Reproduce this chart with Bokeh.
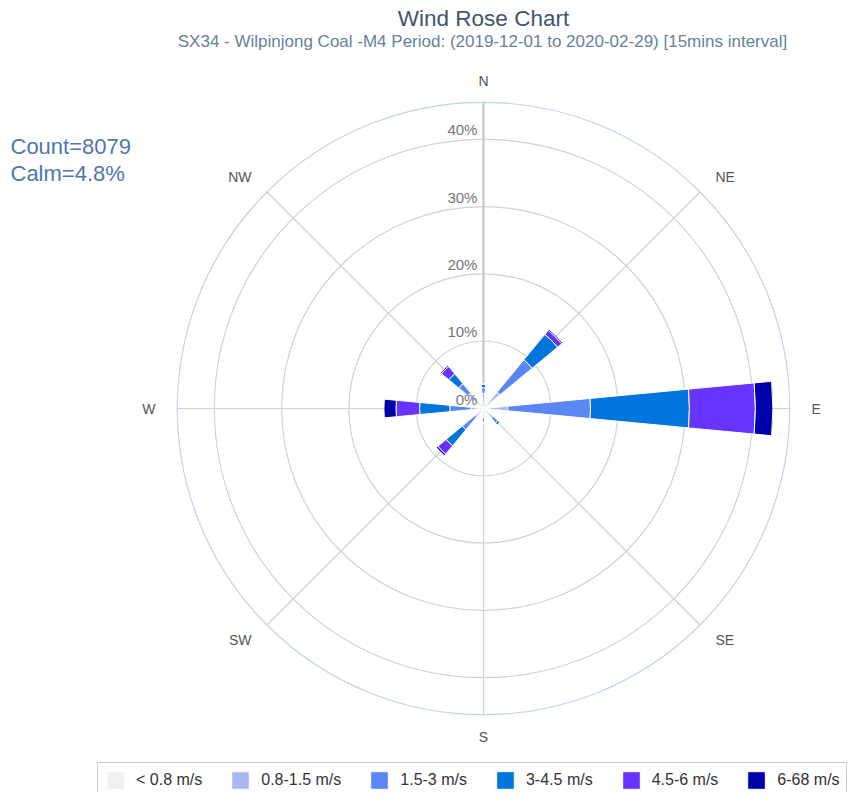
import numpy as np
from bokeh.plotting import figure
from bokeh.models import ColumnDataSource, Label, Legend, LegendItem, Range1d
from bokeh.core.properties import value
from bokeh.embed import file_html
from bokeh.resources import INLINE

# ---------------- data ----------------
directions = ["N", "NNE", "NE", "ENE", "E", "ESE", "SE", "SSE",
              "S", "SSW", "SW", "WSW", "W", "WNW", "NW", "NNW"]
speed_bins = ["< 0.8 m/s", "0.8-1.5 m/s", "1.5-3 m/s", "3-4.5 m/s", "4.5-6 m/s", "6-68 m/s"]
bin_colors = ["#f0f0f0", "#a9b8f5", "#5b86f5", "#0075dc", "#6633ff", "#0000aa"]

s_lt_08 = [0.6, 0.3, 0.4, 0.3, 0.6, 0.3, 0.5, 0.3, 0.5, 0.3, 0.5, 0.3, 0.5, 0.3, 0.5, 0.3]
s_08_15 = [1.6, 0.0, 2.8, 0.0, 3.0, 0.0, 1.3, 0.0, 0.9, 0.0, 1.1, 0.0, 1.4, 0.0, 2.5, 0.0]
s_15_3 = [0.9, 0.0, 6.2, 0.0, 12.3, 0.0, 1.0, 0.0, 0.6, 0.0, 2.5, 0.0, 3.1, 0.0, 1.8, 0.0]
s_3_45 = [0.5, 0.0, 4.9, 0.0, 14.7, 0.0, 0.4, 0.0, 0.2, 0.0, 3.1, 0.0, 4.5, 0.0, 1.9, 0.0]
s_45_6 = [0.0, 0.0, 0.8, 0.0, 9.8, 0.0, 0.0, 0.0, 0.0, 0.0, 1.6, 0.0, 3.5, 0.0, 1.4, 0.0]
s_6_68 = [0.0, 0.0, 0.2, 0.0, 2.6, 0.0, 0.0, 0.0, 0.0, 0.0, 0.3, 0.0, 1.8, 0.0, 0.2, 0.0]
series = [s_lt_08, s_08_15, s_15_3, s_3_45, s_45_6, s_6_68]

axis_labels = ["N", "NE", "E", "SE", "S", "SW", "W", "NW"]
radial_ticks = [0, 10, 20, 30, 40]
radial_max = 45.5

title_text = "Wind Rose Chart"
subtitle_text = "SX34 - Wilpinjong Coal -M4 Period: (2019-12-01 to 2020-02-29) [15mins interval]"
count_text = "Count=8079"
calm_text = "Calm=4.8%"

# ---------------- layout ----------------
W, H = 848, 792
PX = 6.73            # pixels per percent
CX, CY = 483, 408    # centre in figure pixels
x0 = -CX / PX
x1 = (W - CX) / PX
y1 = CY / PX
y0 = -(H - CY) / PX

p = figure(width=W, height=H, x_range=Range1d(x0, x1), y_range=Range1d(y0, y1),
           output_backend="svg", toolbar_location=None, min_border=0,
           x_axis_location=None, y_axis_location=None, outline_line_color=None)
p.grid.visible = False

FONT = "Liberation Sans"

# grid rings
p.circle(x=[0] * 4, y=[0] * 4, radius=radial_ticks[1:], fill_color=None,
         line_color="#d2d2d2", line_width=1.2)
# radial lines
ang = np.radians(np.arange(8) * 45.0)
p.segment(x0=np.zeros(8), y0=np.zeros(8), x1=radial_max * np.sin(ang), y1=radial_max * np.cos(ang),
          line_color="#d0d0d0", line_width=1.2)
p.segment(x0=[0], y0=[0], x1=[0], y1=[radial_max], line_color="#c8c8c8", line_width=2.2)
# outer circle
p.circle(x=[0], y=[0], radius=[radial_max], fill_color=None, line_color="#c5d3e6", line_width=1.2)

# bars
n = len(directions)
bearing = np.arange(n) * 360.0 / n
half = 10.8 / 2
start = np.radians(90 - bearing - half)
end = np.radians(90 - bearing + half)
cum = np.zeros(n)
renderers = []
for name, vals, col in zip(speed_bins, series, bin_colors):
    v = np.array(vals, dtype=float)
    src = ColumnDataSource(dict(x=np.zeros(n), y=np.zeros(n), inner=cum.copy(), outer=cum + v,
                                start=start, end=end, dir=directions))
    r = p.annular_wedge(x="x", y="y", inner_radius="inner", outer_radius="outer",
                        start_angle="start", end_angle="end", source=src,
                        fill_color=col, line_color="white", line_width=1)
    renderers.append(r)
    cum = cum + v

# direction labels (anchored at a fixed radius, aligned away from the centre)
lab_ang = np.radians(np.arange(len(axis_labels)) * 45.0)
lab_r = 328 / PX
lx = lab_r * np.sin(lab_ang)
ly = lab_r * np.cos(lab_ang)
sx = np.sin(lab_ang)
for align, mask in (("left", sx > 0.01), ("right", sx < -0.01), ("center", np.abs(sx) <= 0.01)):
    idx = np.where(mask)[0]
    p.text(x=lx[idx], y=ly[idx], text=[axis_labels[i] for i in idx],
           text_align=align, text_baseline="middle", text_font=value(FONT),
           text_font_size="14px", text_color="#555555")

# radial tick labels
p.text(x=[-0.9] * len(radial_ticks), y=radial_ticks, text=[f"{t}%" for t in radial_ticks],
       text_align="right", text_baseline="bottom", y_offset=-1, text_font=value(FONT),
       text_font_size="15px", text_color="#777777")

# titles and info text
p.add_layout(Label(x=483, y=H - 18, x_units="screen", y_units="screen", text=title_text,
                   text_align="center", text_baseline="middle", text_font=FONT,
                   text_font_size="22.5px", text_color="#44546a"))
p.add_layout(Label(x=482, y=H - 41, x_units="screen", y_units="screen", text=subtitle_text,
                   text_align="center", text_baseline="middle", text_font=FONT,
                   text_font_size="17px", text_color="#6a7f9c"))
p.add_layout(Label(x=10, y=H - 146, x_units="screen", y_units="screen", text=count_text,
                   text_align="left", text_baseline="middle", text_font=FONT,
                   text_font_size="22px", text_color="#4f77b0"))
p.add_layout(Label(x=10, y=H - 173, x_units="screen", y_units="screen", text=calm_text,
                   text_align="left", text_baseline="middle", text_font=FONT,
                   text_font_size="22px", text_color="#4f77b0"))

legend = Legend(items=[LegendItem(label=name, renderers=[r]) for name, r in zip(speed_bins, renderers)],
                orientation="horizontal", location=(97, -6), padding=6, margin=0,
                spacing=27, label_standoff=10, glyph_width=22, glyph_height=22,
                label_text_font=FONT, label_text_font_size="16px", label_text_color="#333333",
                border_line_color="#999999", border_line_width=1,
                background_fill_color="white", background_fill_alpha=1.0)
p.add_layout(legend)

open("out.html", "w").write(file_html(p, INLINE))
